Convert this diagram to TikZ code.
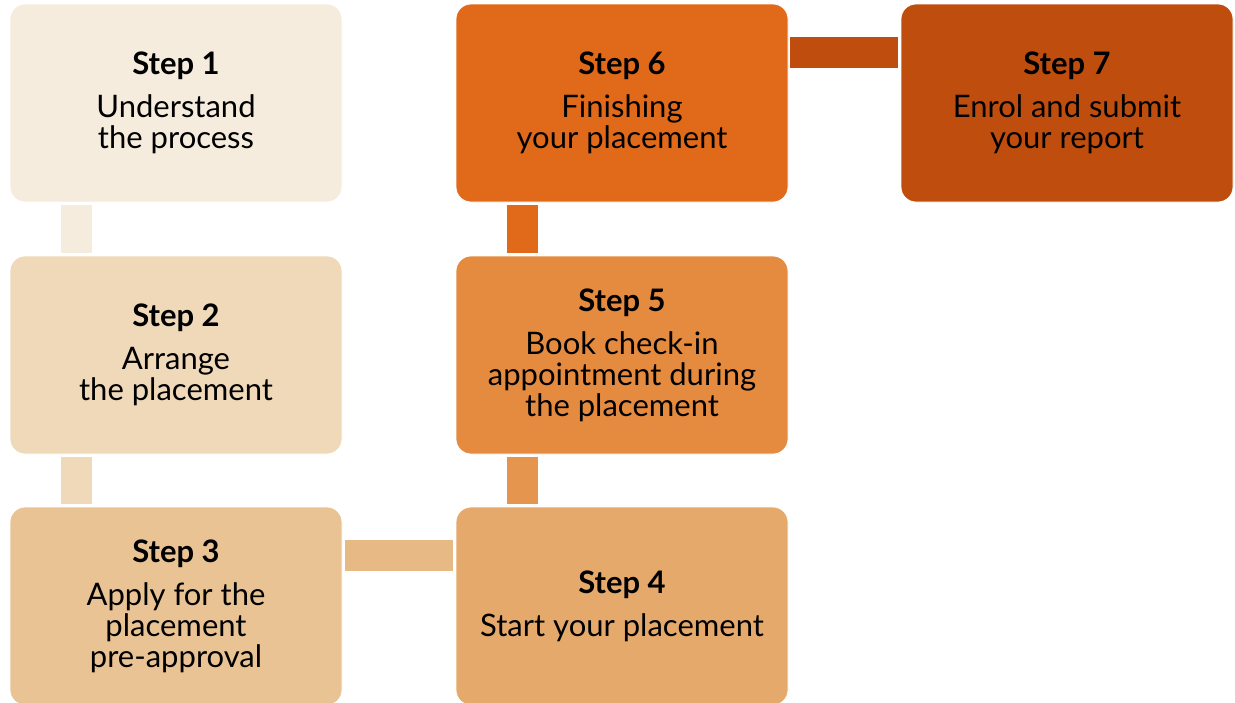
\documentclass[tikz,border=0pt]{standalone}
\usepackage{fontspec}
\setmainfont{Lato}
\definecolor{cA}{HTML}{F5ECDD}
\definecolor{cB}{HTML}{EFD9B9}
\definecolor{cC}{HTML}{EAC394}
\definecolor{cD}{HTML}{E5A96C}
\definecolor{cE}{HTML}{E58B40}
\definecolor{cF}{HTML}{E06A1A}
\definecolor{cG}{HTML}{BF4E0E}
\definecolor{kCD}{HTML}{E6B985}
\definecolor{kDE}{HTML}{E5954E}
\tikzset{
  stepbox/.style={rectangle, rounded corners=15pt, minimum width=332pt, minimum height=198pt,
    inner sep=0pt, align=center, draw=white, line width=0.8pt, text=black,
    font=\fontsize{31}{31}\selectfont},
  bar/.style={line width=31pt, line cap=butt},
}
\newcommand{\stt}[1]{{\bfseries #1}\\[12pt]}
\begin{document}
\begin{tikzpicture}[x=1pt,y=-1pt]
\useasboundingbox (0,0) rectangle (1235,702);
\begin{scope}
\clip (0,0) rectangle (1235,702);
\node[stepbox, fill=cA] (s1) at (176,103) {\stt{Step 1}Understand\\the process};
\node[stepbox, fill=cB] (s2) at (176,355) {\stt{Step 2}Arrange\\the placement};
\node[stepbox, fill=cC] (s3) at (176,606) {\stt{Step 3}Apply for the\\placement\\pre-approval};
\node[stepbox, fill=cD] (s4) at (622,606) {\stt{Step 4}Start your placement};
\node[stepbox, fill=cE] (s5) at (622,355) {\stt{Step 5}Book check-in\\appointment during\\the placement};
\node[stepbox, fill=cF] (s6) at (622,103) {\stt{Step 6}Finishing\\your placement};
\node[stepbox, fill=cG] (s7) at (1067,103) {\stt{Step 7}Enrol and submit\\your report};
\end{scope}
\draw[bar, cA] ([xshift=66.5pt,yshift=-3pt]s1.south west) -- ([xshift=66.5pt,yshift=3pt]s2.north west);
\draw[bar, cB] ([xshift=66.5pt,yshift=-3pt]s2.south west) -- ([xshift=66.5pt,yshift=3pt]s3.north west);
\draw[bar, kCD] ([xshift=3pt,yshift=-48.5pt]s3.north east) -- ([xshift=-3pt,yshift=-48.5pt]s4.north west);
\draw[bar, kDE] ([xshift=66.5pt,yshift=3pt]s4.north west) -- ([xshift=66.5pt,yshift=-3pt]s5.south west);
\draw[bar, cF] ([xshift=66.5pt,yshift=3pt]s5.north west) -- ([xshift=66.5pt,yshift=-3pt]s6.south west);
\draw[bar, cG] ([xshift=2pt,yshift=-48.5pt]s6.north east) -- ([xshift=-3pt,yshift=-48.5pt]s7.north west);
\end{tikzpicture}
\end{document}
